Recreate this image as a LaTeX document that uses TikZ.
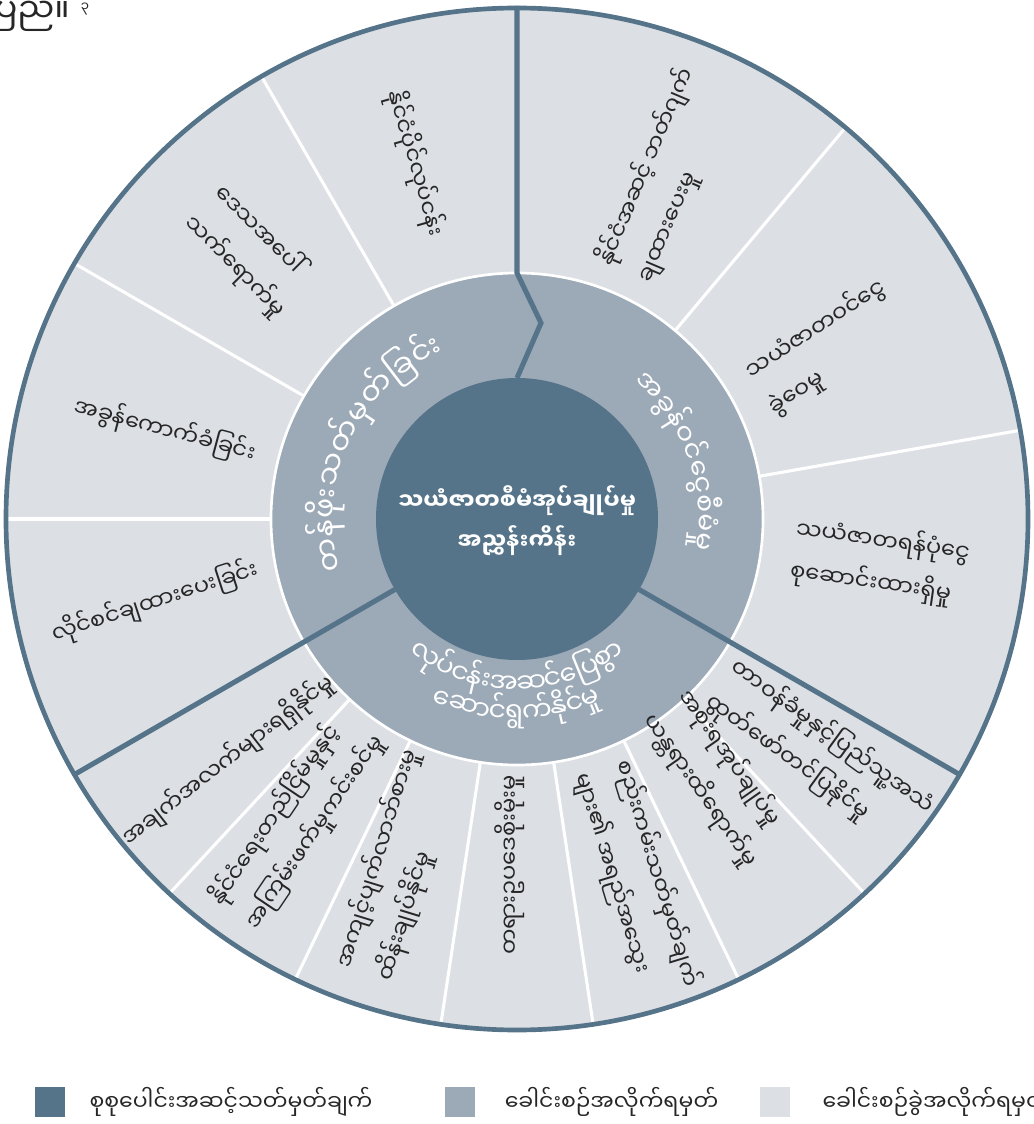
\documentclass[tikz,border=0pt]{standalone}
\usepackage{fontspec}
\newfontfamily\mmfont[Script=Myanmar]{Noto Sans Myanmar UI}
\usetikzlibrary{positioning}

\definecolor{rgidark}{HTML}{557489}
\definecolor{rgimid}{HTML}{9CA9B7}
\definecolor{rgilight}{HTML}{DCDFE4}

\newcommand\catfont{\mmfont\fontsize{20}{26}\selectfont}
\newcommand\catbigfont{\mmfont\fontsize{22.5}{26}\selectfont}
\newcommand\segfont{\mmfont\fontsize{17}{32}\selectfont}
\newcommand\keyfont{\mmfont\fontsize{16.5}{22}\selectfont}

% topic names, cut into clusters
\newcommand\valuetext{တ,န်,ဖိုး,သ,တ်,မှ,တ်,ခြ,င်း}
\newcommand\revenuetext{အ,ခွ,န်,ဝ,င်,ငွေ,စီ,မံ,မှု}
\newcommand\enabletext{လု,ပ်,င,န်း,အ,ဆ,င်,ပြေ,စွာ}
\newcommand\enabletwotext{ဆော,င်,ရွ,က်,နို,င်,မှု}

% widths of the clusters, taken outside the picture
% #1 name, #2 font, #3 clusters
\newcommand\measurelabel[3]{%
  \gdef\rltot{0}%
  \expandafter\gdef\csname rlfont-#1\endcsname{#2}%
  \foreach \cl [count=\i] in #3{%
    \setbox0\hbox{#2\cl}%
    \expandafter\xdef\csname rlw-#1-\i\endcsname{\the\wd0}%
    \pgfmathsetmacro\rlnew{\rltot+\csname rlw-#1-\i\endcsname/0.75}%
    \xdef\rltot{\rlnew}}%
  \expandafter\xdef\csname rltot-#1\endcsname{\rltot}}

% one cluster after the other along a circle
% #1 name, #2 baseline radius, #3 mid angle, #4 1 = clockwise, -1 = counter-clockwise, #5 clusters
\newcommand\ringlabel[5]{%
  \pgfmathsetmacro\rlstart{#3+(#4)*\csname rltot-#1\endcsname/#2*28.6479}%
  \xdef\rlcur{\rlstart}%
  \foreach \cl [count=\i] in #5{%
    \pgfmathsetmacro\rlw{\csname rlw-#1-\i\endcsname/0.75/#2*57.2958}%
    \pgfmathsetmacro\rla{\rlcur-(#4)*\rlw/2}%
    \node[catlabel,font=\csname rlfont-#1\endcsname,rotate=\rla-(#4)*90] (#1-\i) at (\rla:#2) {\cl};
    \pgfmathsetmacro\rlnext{\rlcur-(#4)*\rlw}%
    \xdef\rlcur{\rlnext}}%
}

\begin{document}
\measurelabel{value}{\catbigfont}{\valuetext}%
\measurelabel{revenue}{\catfont}{\revenuetext}%
\measurelabel{enable}{\catfont}{\enabletext}%
\measurelabel{enabletwo}{\catfont}{\enabletwotext}%
\begin{tikzpicture}[
    x=0.75pt,y=0.75pt,
    catlabel/.style={text=white,inner sep=0pt,anchor=base},
    seglabel/.style={font=\segfont,text=black!85,align=left,inner sep=0pt},
    keybox/.style={minimum size=22.5pt,inner sep=0pt},
    keylabel/.style={font=\keyfont,text=black!85,inner sep=0pt},
    subline/.style={white,line width=2.3pt},
    mainline/.style={rgidark,line width=3.8pt}
  ]
  \useasboundingbox (-517,-605) rectangle (516,519);

  % Rings
  \fill[rgilight] (0,0) circle (513);
  \fill[rgimid] (0,0) circle (246);
  \fill[rgidark] (0,0) circle (141);
  \draw[white,line width=2pt] (0,0) circle (246);

  % Sub-topic dividers
  \foreach \a in {50,10,120,150,180}
    \draw[subline] (\a:246) -- (\a:513);
  \foreach \k in {1,...,6}
    \draw[subline] ({-30-\k*120/7}:246) -- ({-30-\k*120/7}:513);

  % Topic dividers
  \draw[mainline] (90:513) -- (90:246) -- (24,196) -- (90:141);
  \draw[mainline] (-30:141) -- (-30:513);
  \draw[mainline] (210:141) -- (210:513);
  \draw[rgidark,line width=3.5pt] (0,0) circle (511);

  % Centre
  \node[font=\mmfont\bfseries\fontsize{17}{30}\selectfont,text=white,align=center] (rgi) at (0,-2)
    {သယံဇာတစီမံအုပ်ချုပ်မှု\\အညွှန်းကိန်း};

  % Topics
  \ringlabel{value}{180}{155}{1}{\valuetext}
  \ringlabel{revenue}{178}{20}{1}{\revenuetext}
  \ringlabel{enable}{174}{-90}{-1}{\enabletext}
  \ringlabel{enabletwo}{203}{-90}{-1}{\enabletwotext}

  % Sub-topics
  \node[seglabel,rotate=67] (budget) at (149,344) {နိုင်ငံအဆင့် ဘတ်ဂျက်\\ချထားပေးမှု};
  \node[seglabel,rotate=33] (sharing) at (310,172) {သယံဇာတဝင်ငွေ\\ခွဲဝေမှု};
  \node[seglabel,rotate=-8] (fund) at (363,-43) {သယံဇာတရန်ပုံငွေ\\စုဆောင်းထားရှိမှု};
  \node[seglabel,rotate=-36] (voice) at (303,-235) {တာဝန်ခံမှုနှင့်ပြည်သူ့အသံ\\ထုတ်ဖော်တင်ပြနိုင်မှု};
  \node[seglabel,rotate=-55] (govt) at (201,-259) {အစိုးရအုပ်ချုပ်မှု\\ယန္တရားထိရောက်မှု};
  \node[seglabel,rotate=-73] (regul) at (120,-361) {စည်းကမ်းသတ်မှတ်ချက်\\များ၏ အရည်အသွေး};
  \node[seglabel,rotate=90] (law) at (-7,-346) {တရားဥပဒေစိုးမိုးမှု};
  \node[seglabel,rotate=73] (corrupt) at (-119,-346) {အကျင့်ပျက်လာဘ်စားမှု\\ထိန်းချုပ်နိုင်မှု};
  \node[seglabel,rotate=56] (stable) at (-220,-301) {နိုင်ငံရေးတည်ငြိမ်မှုနှင့်\\အကြမ်းဖက်မှုကင်းစင်မှု};
  \node[seglabel,rotate=38] (data) at (-289,-241) {အချက်အလက်များရရှိနိုင်မှု};
  \node[seglabel,rotate=18] (licence) at (-362,-83) {လိုင်စင်ချထားပေးခြင်း};
  \node[seglabel,rotate=-15] (tax) at (-352,89) {အခွန်ကောက်ခံခြင်း};
  \node[seglabel,rotate=-45] (local) at (-267,268) {ဒေသအပေါ်\\သက်ရောက်မှု};
  \node[seglabel,rotate=-74] (soe) at (-102,356) {နိုင်ငံပိုင်လုပ်ငန်း};

  % Legend
  \node[keybox,fill=rgidark] (keyone) at (-467,-583) {};
  \node[keylabel,right=18pt of keyone] (keyonetext) {စုစုပေါင်းအဆင့်သတ်မှတ်ချက်};
  \node[keybox,fill=rgimid] (keytwo) at (-57,-583) {};
  \node[keylabel,right=22pt of keytwo] (keytwotext) {ခေါင်းစဉ်အလိုက်ရမှတ်};
  \node[keybox,fill=rgilight] (keythree) at (258,-583) {};
  \node[keylabel,right=24pt of keythree] (keythreetext) {ခေါင်းစဉ်ခွဲအလိုက်ရမှတ်};

  % cut text in the corner
  \node[font=\mmfont\fontsize{25}{28}\selectfont,text=black!85,inner sep=0pt,anchor=base east] (cut) at (-447,496) {ပြည်။};
  \node[font=\mmfont\fontsize{10}{12}\selectfont,text=black!85] (note) at (-432,510) {၃};
\end{tikzpicture}
\end{document}
